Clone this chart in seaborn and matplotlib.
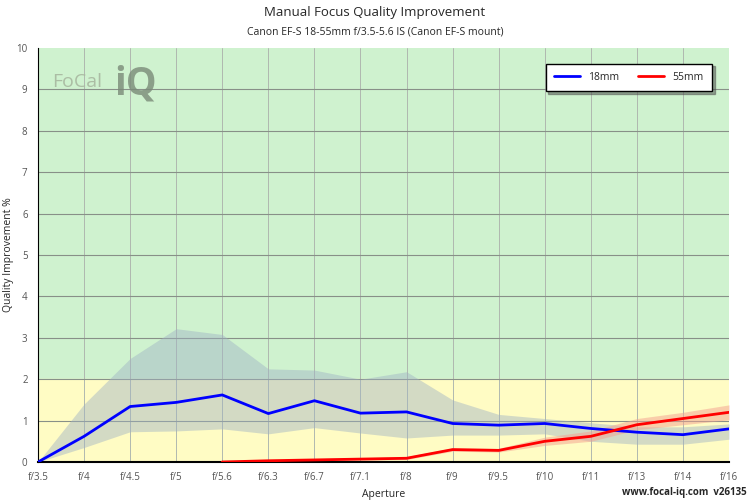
import matplotlib
matplotlib.use("Agg")
import matplotlib.pyplot as plt
import seaborn as sns
import pandas as pd
import numpy as np

apertures = ["f/3.5","f/4","f/4.5","f/5","f/5.6","f/6.3","f/6.7","f/7.1","f/8","f/9","f/9.5","f/10","f/11","f/13","f/14","f/16"]
blue = [0, 0.62, 1.34, 1.44, 1.62, 1.17, 1.48, 1.18, 1.21, 0.93, 0.89, 0.93, 0.81, 0.72, 0.66, 0.80]
blue_hi = [0, 1.4, 2.5, 3.22, 3.08, 2.25, 2.22, 2.0, 2.18, 1.5, 1.15, 1.05, 0.95, 0.85, 0.85, 0.92]
blue_lo = [0, 0.35, 0.73, 0.75, 0.8, 0.68, 0.83, 0.7, 0.58, 0.65, 0.65, 0.68, 0.5, 0.43, 0.43, 0.55]
red_ap = apertures[4:]
red = [0, 0.03, 0.05, 0.07, 0.09, 0.3, 0.28, 0.5, 0.62, 0.9, 1.05, 1.2]
red_hi = [0.02, 0.05, 0.08, 0.1, 0.13, 0.34, 0.33, 0.6, 0.75, 1.05, 1.2, 1.38]
red_lo = [0, 0.01, 0.03, 0.05, 0.06, 0.26, 0.24, 0.4, 0.5, 0.78, 0.9, 1.02]

sns.set_style("white")
plt.rcParams['font.family'] = ['Open Sans', 'DejaVu Sans']
fig = plt.figure(figsize=(7.5, 5), dpi=100)
ax = fig.add_axes([38/750, 38/500, 691/750, 414/500])

xb = np.arange(len(apertures))
xr = np.arange(4, len(apertures))
ax.axhspan(2, 10, color="#cff2cf", zorder=0)
ax.axhspan(0, 2, color="#fffcc4", zorder=0)
for i in xb:
    ax.axvline(i, color="#b0b8b0", lw=0.7, zorder=1)
for y in range(1, 10):
    ax.axhline(y, color="#889088", lw=0.8, zorder=1)

ax.fill_between(xb, blue_lo, blue_hi, color="#9fb2c4", alpha=0.45, lw=0, zorder=2)
ax.fill_between(xr, red_lo, red_hi, color="#f4a090", alpha=0.5, lw=0, zorder=2)
df_b = pd.DataFrame({"x": xb, "y": blue})
df_r = pd.DataFrame({"x": xr, "y": red})
sns.lineplot(data=df_b, x="x", y="y", color="#0000ff", lw=2, ax=ax, label="18mm", zorder=3)
sns.lineplot(data=df_r, x="x", y="y", color="#ff0000", lw=2, ax=ax, label="55mm", zorder=3)

ax.set_xlim(0, len(apertures)-1)
ax.set_ylim(0, 10)
ax.set_xticks(xb)
ax.set_xticklabels(apertures, fontsize=7, color="#555555")
ax.set_yticks(range(0, 11))
ax.set_yticklabels([str(i) for i in range(11)], fontsize=7, color="#555555")
ax.tick_params(axis="both", length=4, color="#000000", direction="out")
ax.set_xlabel("Aperture", fontsize=7.5)
ax.set_ylabel("Quality Improvement %", fontsize=7.5)
ax.yaxis.set_label_coords(-0.035, 0.5)
for s in ["top", "right"]:
    ax.spines[s].set_visible(False)
ax.spines["left"].set_color("#000000")
ax.spines["bottom"].set_color("#000000")
ax.spines["bottom"].set_linewidth(1.5)

leg = ax.legend(loc="upper right", bbox_to_anchor=(0.983, 0.975), ncol=2, fontsize=7.5,
                frameon=True, fancybox=False, edgecolor="#000000", borderpad=0.8,
                handlelength=2.5, columnspacing=1.8, shadow=True, framealpha=1)
leg.get_frame().set_linewidth(1)

fig.text(0.5, 0.968, "Manual Focus Quality Improvement", ha="center", fontsize=9.5)
fig.text(0.5, 0.932, "Canon EF-S 18-55mm f/3.5-5.6 IS (Canon EF-S mount)", ha="center", fontsize=7.5)
fig.text(0.995, 0.01, "www.focal-iq.com  v26135", ha="right", fontsize=7, weight="bold")
ax.text(0.02, 0.94, "FoCal", transform=ax.transAxes, fontsize=14, color="#a8b8a0", alpha=0.9, va="top")
ax.text(0.11, 0.96, "iQ", transform=ax.transAxes, fontsize=28, color="#7a8a78", alpha=0.8, va="top", weight="bold")

fig.savefig("out.png", dpi=100)
